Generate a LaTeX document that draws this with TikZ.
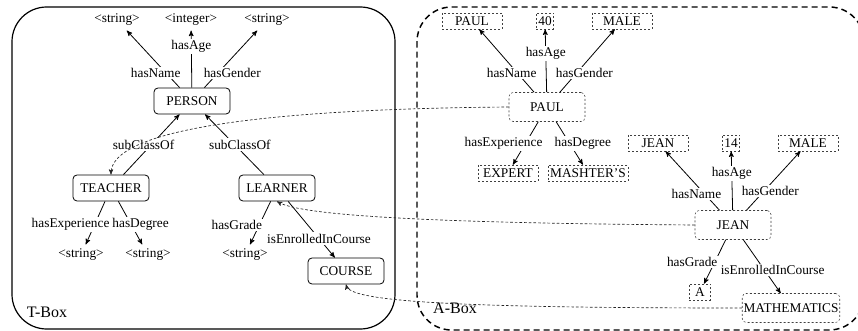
\documentclass[tikz,border=0pt]{standalone}
\usepackage{fontspec}
\setmainfont{Liberation Serif}
\usetikzlibrary{positioning}
\usetikzlibrary{arrows}
\tikzset{
concept/.style=
    { % Sets the properties for each class of the T-Box
        draw,
        semithick,
        rounded corners=3pt,
        minimum width=57pt,
        minimum height=19.5pt
    },
individual/.style=
    { % Sets the properties for each individual of the A-Box
        draw=black!75,
        thin,
        dash pattern=on 1.5pt off 1.5pt,
        rounded corners=3pt,
        inner xsep=1pt,
        minimum width=57pt,
        minimum height=21.75pt
    },
value/.style=
    { % Boxes round the data values
        draw=black!75,
        thin,
        dash pattern=on 1.5pt off 1.5pt,
        inner xsep=1.5pt,
        inner ysep=1pt,
        minimum width=45pt,
        minimum height=12pt
    },
lbl/.style={fill=white, inner sep=1pt}, % Labels sit on the line
instanceof/.style={draw=black!85, line width=0.5pt, dash pattern=on 2pt off 1.5pt, ->, >=stealth'},
every edge/.style={ % Sets the properties for each property arrow
        draw,
        ->,>=stealth',
        semithick
    }
}
\begin{document}
\begin{tikzpicture}[x=0.75pt, y=-0.75pt]
\useasboundingbox (0,0) rectangle (858,331);

% T-Box and A-Box frames
\draw[line width=0.9pt, rounded corners=26pt] (12,7) rectangle (395,329);
\draw[line width=1.1pt, dash pattern=on 4.5pt off 3pt, rounded corners=26pt] (417,7) rectangle (864,330);
\node (23) at (47,312) {\large T-Box};
\node (24) at (455,308) {\large A-Box};

% T-Box
\node [concept] (1) at (192,101) {PERSON};
\node [concept] (2) at (111,188) {TEACHER};
\node [concept] (3) at (277,188) {LEARNER};
\node [concept] (4) at (346,271) {COURSE};
\node (5) at (117,20) {<string>};
\node (6) at (191,20) {<integer>};
\node (7) at (267,20) {<string>};
\node (8) at (81,255) {<string>};
\node (9) at (148,255) {<string>};
\node (10) at (245,255) {<string>};

\draw
    (1) edge node[lbl, pos=0.25, xshift=-8pt]{hasName} (5)
    (1) edge node[lbl, pos=0.72]{hasAge} (6)
    (1) edge node[lbl, pos=0.25, xshift=11pt]{hasGender} (7)
    (2) edge node[lbl, pos=0.5, xshift=-6pt]{subClassOf} (1)
    (3) edge node[lbl, pos=0.5, xshift=4pt]{subClassOf} (1)
    (2) edge node[lbl, pos=0.54, xshift=-18pt]{hasExperience} (8)
    (2) edge node[lbl, pos=0.54, xshift=7pt]{hasDegree} (9)
    (3) edge node[lbl, pos=0.54, xshift=-17pt]{hasGrade} (10)
    (3) edge node[lbl, pos=0.66]{isEnrolledInCourse} (4);

% A-Box
\node [individual] (11) at (547,107) {PAUL};
\node [value] (12) at (472,21) {PAUL};
\node [value, minimum width=0pt] (13) at (545,21) {40};
\node [value] (14) at (622,21) {MALE};
\node [value] (15) at (508,173) {EXPERT};
\node [value] (16) at (588,173) {MASHTER'S};
\node [individual] (17) at (733,225) {JEAN};
\node [value] (18) at (658,143) {JEAN};
\node [value, minimum width=0pt] (19) at (731,143) {14};
\node [value] (20) at (808,143) {MALE};
\node [value, minimum width=16pt] (21) at (700,292) {A};
\node [individual] (22) at (791,308) {MATHEMATICS};

\draw
    (11) edge node[lbl, pos=0.3, xshift=-4.5pt]{hasName} (12)
    (11) edge node[lbl, pos=0.62]{hasAge} (13)
    (11) edge node[lbl, pos=0.3, xshift=6pt]{hasGender} (14)
    (11) edge node[lbl, pos=0.5, xshift=-16.5pt]{hasExperience} (15)
    (11) edge node[lbl, pos=0.5, xshift=10pt]{hasDegree} (16)
    (17) edge node[lbl, pos=0.28, xshift=-6pt]{hasName} (18)
    (17) edge node[lbl, pos=0.62]{hasAge} (19)
    (17) edge node[lbl, pos=0.33, xshift=4.5pt]{hasGender} (20)
    (17) edge node[lbl, pos=0.5, xshift=-17pt]{hasGrade} (21)
    (17) edge node[lbl, pos=0.57, xshift=6pt]{isEnrolledInCourse} (22);

% individuals to their classes
\draw[instanceof] (11.west) .. controls (260,109) and (111,130) .. (2.north);
\draw[instanceof] (17.west) .. controls (420,223) and (300,215) .. (3.south);
\draw[instanceof] (22.west) .. controls (430,308) and (350,300) .. (4.south);
\end{tikzpicture}
\end{document}
